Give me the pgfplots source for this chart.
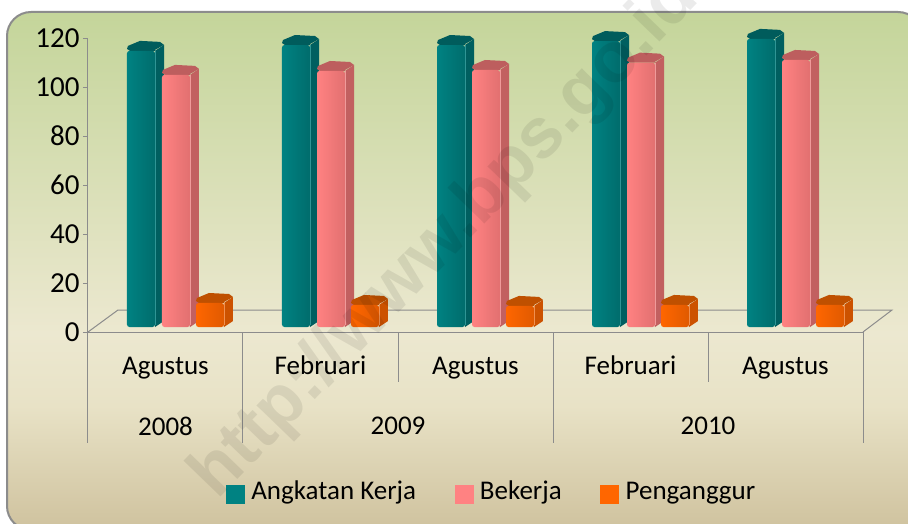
\documentclass[border=0pt]{standalone}
\usepackage{fontspec}
\setmainfont{Carlito}
\newfontfamily\wmfont{Liberation Sans}
\usepackage{pgfplots}
\pgfplotsset{compat=1.18}
\definecolor{axgray}{HTML}{8C8C8C}
\definecolor{tealA}{HTML}{008282}\definecolor{tealB}{HTML}{006C6C}\definecolor{tealS}{HTML}{005F60}\definecolor{tealT}{HTML}{005C5C}\definecolor{tealL}{HTML}{2F9595}
\definecolor{pinkA}{HTML}{FF8282}\definecolor{pinkB}{HTML}{E27070}\definecolor{pinkS}{HTML}{C26060}\definecolor{pinkT}{HTML}{BD5E5E}\definecolor{pinkL}{HTML}{F09A9A}
\definecolor{orA}{HTML}{FF6600}\definecolor{orB}{HTML}{E05A00}\definecolor{orS}{HTML}{CC5200}\definecolor{orT}{HTML}{BF5000}\definecolor{orL}{HTML}{F09050}
\definecolor{pT}{HTML}{C4D59A}\definecolor{pM}{HTML}{ECE8D0}\definecolor{pC}{HTML}{E8E2C6}\definecolor{pB}{HTML}{CFC29E}
\pgfdeclareverticalshading{panelshade}{100bp}{
 color(0bp)=(pB); color(25bp)=(pB); color(37bp)=(pC); color(44bp)=(pM); color(75bp)=(pT); color(100bp)=(pT)}
% one bar: #1 category index, #2 left offset px, #3 value, #4 colour prefix, #5 bar shift (left offset + 14)
\newcommand\threedbar[5]{%
 \pgfmathsetmacro\xa{#1+(#2)/155}\pgfmathsetmacro\xb{#1+(#2+1)/155}\pgfmathsetmacro\xc{#1+(#2+3)/155}
 \pgfmathsetmacro\xd{#1+(#2+13)/155}\pgfmathsetmacro\xe{#1+(#2+33)/155}\pgfmathsetmacro\xf{#1+(#2+28)/155}\pgfmathsetmacro\xg{#1+(#2+37)/155}
 \pgfmathsetmacro\ya{#3+2/2.45}\pgfmathsetmacro\yb{#3+5/2.45}\pgfmathsetmacro\yc{#3+10/2.45}\pgfmathsetmacro\yd{#3+9/2.45}\pgfmathsetmacro\ye{#3+6/2.45}\pgfmathsetmacro\yf{#3+1/2.45}
 \pgfmathsetmacro\yg{6/2.45}%
 \addplot[fill=#4S,draw=none,forget plot,yshift=5pt] coordinates {(\xf,0) (\xg,\yg) (\xg,\ye) (\xf,#3)} --cycle;
 \addplot[fill=#4T,draw=none,forget plot,yshift=5pt] coordinates {(\xc,#3) (\xa,\ya) (\xb,\yb) (\xd,\yc) (\xe,\yd) (\xg,\ye) (\xf,\yf) (\xf,#3)} --cycle;
 \addplot[ybar,bar width=28pt,bar shift=#5pt,draw=none,rounded corners=2.5pt,left color=#4A,right color=#4B,yshift=5pt,forget plot] coordinates {(#1,#3)};
 \addplot[#4L,line width=0.7pt,forget plot,yshift=5pt] coordinates {(\xf,1) (\xf,#3)};
}
\begin{document}
\begin{tikzpicture}[x=1pt,y=1pt]
\useasboundingbox (0,0) rectangle (908,-524);
\clip (0,0) rectangle (908,-524);
\fill[white] (0,0) rectangle (908,-524);
\draw[axgray,line width=2pt,rounded corners=24pt,shading=panelshade] (7,-12) rectangle (922,-530);
% floor
\draw[axgray,line width=1pt] (88,-332) -- (118,-310) -- (892,-310) -- (863,-332);
\begin{axis}[
 at={(88pt,-332pt)},anchor=south west,
 scale only axis,width=775pt,height=294pt,
 clip=false,
 xmin=-0.5,xmax=4.5,ymin=0,ymax=120,
 axis x line*=bottom,axis y line*=left,
 axis line style={axgray,line width=1pt,-},
 xtick={0,1,2,3,4},xticklabels={Agustus,Februari,Agustus,Februari,Agustus},
 x tick style={draw=none},
 xticklabel style={font=\fontsize{27}{30}\selectfont,yshift=-16pt,text height=18pt,text depth=6pt},
 ytick={0,20,40,60,80,100,120},
 y tick style={axgray,line width=1pt},
 tick align=outside,major tick length=5pt,
 yticklabel style={font=\fontsize{29}{32}\selectfont,/pgf/number format/assume math mode=true},
 legend style={at={(0.178,-0.55)},anchor=west,legend columns=3,draw=none,fill=none,
  font=\fontsize{27}{30}\selectfont,/tikz/every even column/.append style={column sep=36.5pt},
  /tikz/every odd column/.append style={column sep=5pt},
  /tikz/column 4/.append style={column sep=32.5pt},
  nodes={text height=18pt,text depth=6pt},
  inner sep=0pt,outer sep=0pt},
 legend cell align=left,
]
% Angkatan Kerja
\threedbar{0}{-38.5}{112.7}{teal}{-24.5}
\threedbar{1}{-38.5}{115.1}{teal}{-24.5}
\threedbar{2}{-38.5}{115.1}{teal}{-24.5}
\threedbar{3}{-38.5}{116.7}{teal}{-24.5}
\threedbar{4}{-38.5}{117.6}{teal}{-24.5}
% Bekerja
\threedbar{0}{-3.5}{102.9}{pink}{10.5}
\threedbar{1}{-3.5}{104.5}{pink}{10.5}
\threedbar{2}{-3.5}{104.9}{pink}{10.5}
\threedbar{3}{-3.5}{107.9}{pink}{10.5}
\threedbar{4}{-3.5}{109.0}{pink}{10.5}
% Penganggur
\threedbar{0}{30.5}{9.8}{or}{44.5}
\threedbar{1}{30.5}{9.0}{or}{44.5}
\threedbar{2}{30.5}{8.6}{or}{44.5}
\threedbar{3}{30.5}{9.0}{or}{44.5}
\threedbar{4}{30.5}{9.0}{or}{44.5}
\addlegendimage{legend image code/.code={\fill[tealA] (0pt,-9pt) rectangle (18pt,9pt);}}
\addlegendentry{Angkatan Kerja}
\addlegendimage{legend image code/.code={\fill[pinkA] (0pt,-9pt) rectangle (18pt,9pt);}}
\addlegendentry{Bekerja}
\addlegendimage{legend image code/.code={\fill[orA] (0pt,-9pt) rectangle (18pt,9pt);}}
\addlegendentry{Penganggur}
% separators
\draw[axgray,line width=1pt] (axis cs:-0.5,0) -- ([yshift=-111pt]axis cs:-0.5,0);
\draw[axgray,line width=1pt] (axis cs:0.5,0) -- ([yshift=-111pt]axis cs:0.5,0);
\draw[axgray,line width=1pt] (axis cs:1.5,0) -- ([yshift=-50pt]axis cs:1.5,0);
\draw[axgray,line width=1pt] (axis cs:2.5,0) -- ([yshift=-111pt]axis cs:2.5,0);
\draw[axgray,line width=1pt] (axis cs:3.5,0) -- ([yshift=-50pt]axis cs:3.5,0);
\draw[axgray,line width=1pt] (axis cs:4.5,0) -- ([yshift=-111pt]axis cs:4.5,0);
\node[font=\fontsize{27}{30}\selectfont] at ([yshift=-94pt]axis cs:0,0) {2008};
\node[font=\fontsize{27}{30}\selectfont] at ([yshift=-94pt]axis cs:1.5,0) {2009};
\node[font=\fontsize{27}{30}\selectfont] at ([yshift=-94pt]axis cs:3.5,0) {2010};
\end{axis}
\node[rotate=46,text=black,opacity=0.08,font=\wmfont\bfseries\fontsize{71}{76}\selectfont] at (446,-238) {http://www.bps.go.id};
\end{tikzpicture}
\end{document}
